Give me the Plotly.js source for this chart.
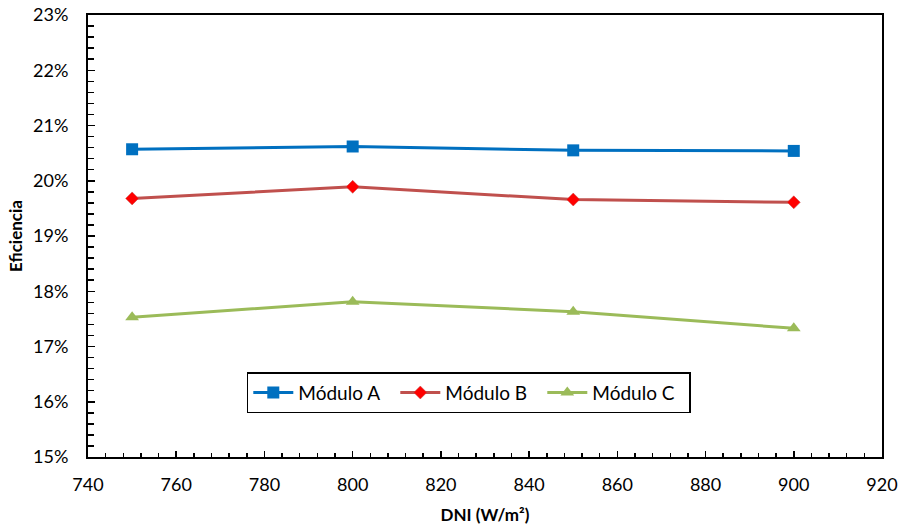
<!DOCTYPE html>
<html>
<head>
<meta charset="utf-8">
<script src="https://cdn.plot.ly/plotly-3.0.1.min.js"></script>
<style>body{margin:0;padding:0;background:#fff;}#chart{width:904px;height:528px;}</style>
</head>
<body>
<div id="chart"></div>
<script>
const dni = [750, 800, 850, 900];
const moduloA = [0.2057, 0.2062, 0.2055, 0.2054];
const moduloB = [0.1968, 0.1989, 0.1966, 0.1961];
const moduloC = [0.1753, 0.1781, 0.1763, 0.1733];
const seriesNames = ['Módulo A', 'Módulo B', 'Módulo C'];

const fontFam = 'Lato, "Liberation Sans", sans-serif';

const traces = [
  {x: dni, y: moduloA, name: seriesNames[0], mode: 'lines+markers',
   line: {color: '#0070C0', width: 3},
   marker: {symbol: 'square', size: 12, color: '#0070C0'}},
  {x: dni, y: moduloB, name: seriesNames[1], mode: 'lines+markers',
   line: {color: '#C0504D', width: 3},
   marker: {symbol: 'diamond', size: 10, color: '#FF0000', line: {color: '#C0504D', width: 0.5}}},
  {x: dni, y: moduloC, name: seriesNames[2], mode: 'lines+markers',
   line: {color: '#9BBB59', width: 3},
   marker: {symbol: 'triangle-up', size: 12, color: '#9BBB59'}}
];

const layout = {
  width: 904, height: 528,
  margin: {l: 88, r: 22, t: 15, b: 71},
  paper_bgcolor: '#fff', plot_bgcolor: '#fff',
  font: {family: fontFam, size: 18, color: '#000'},
  showlegend: true,
  legend: {orientation: 'h', x: 0.2, y: 0.192, xanchor: 'left', yanchor: 'top',
    bordercolor: '#000', borderwidth: 1.5, bgcolor: '#fff',
    font: {family: fontFam, size: 19, color: '#000'}, itemwidth: 40,
    entrywidth: 92, tracegroupgap: 0},
  xaxis: {range: [740, 920], dtick: 20, tick0: 740,
    showgrid: false, zeroline: false,
    showline: true, linecolor: '#000', linewidth: 2, mirror: true,
    ticks: 'inside', ticklen: 6, tickwidth: 1.5, tickcolor: '#000',
    ticklabelstandoff: 10,
    minor: {dtick: 4, ticks: 'inside', ticklen: 4, tickwidth: 1.5, tickcolor: '#000', showgrid: false},
    tickfont: {size: 18},
    title: {text: '<b>DNI (W/m²)</b>', font: {size: 17}, standoff: 16}},
  yaxis: {range: [0.15, 0.23], dtick: 0.01, tick0: 0.15, tickformat: '.0%',
    showgrid: false, zeroline: false,
    showline: true, linecolor: '#000', linewidth: 2, mirror: true,
    ticks: 'inside', ticklen: 7, tickwidth: 1.5, tickcolor: '#000',
    ticklabelstandoff: 14,
    minor: {dtick: 0.002, ticks: 'inside', ticklen: 6, tickwidth: 1.5, tickcolor: '#000', showgrid: false},
    tickfont: {size: 18},
    title: {text: '<b>Eficiencia</b>', font: {size: 17}, standoff: 6}}
};

Plotly.newPlot('chart', traces, layout, {staticPlot: true, displayModeBar: false});
</script>
</body>
</html>
